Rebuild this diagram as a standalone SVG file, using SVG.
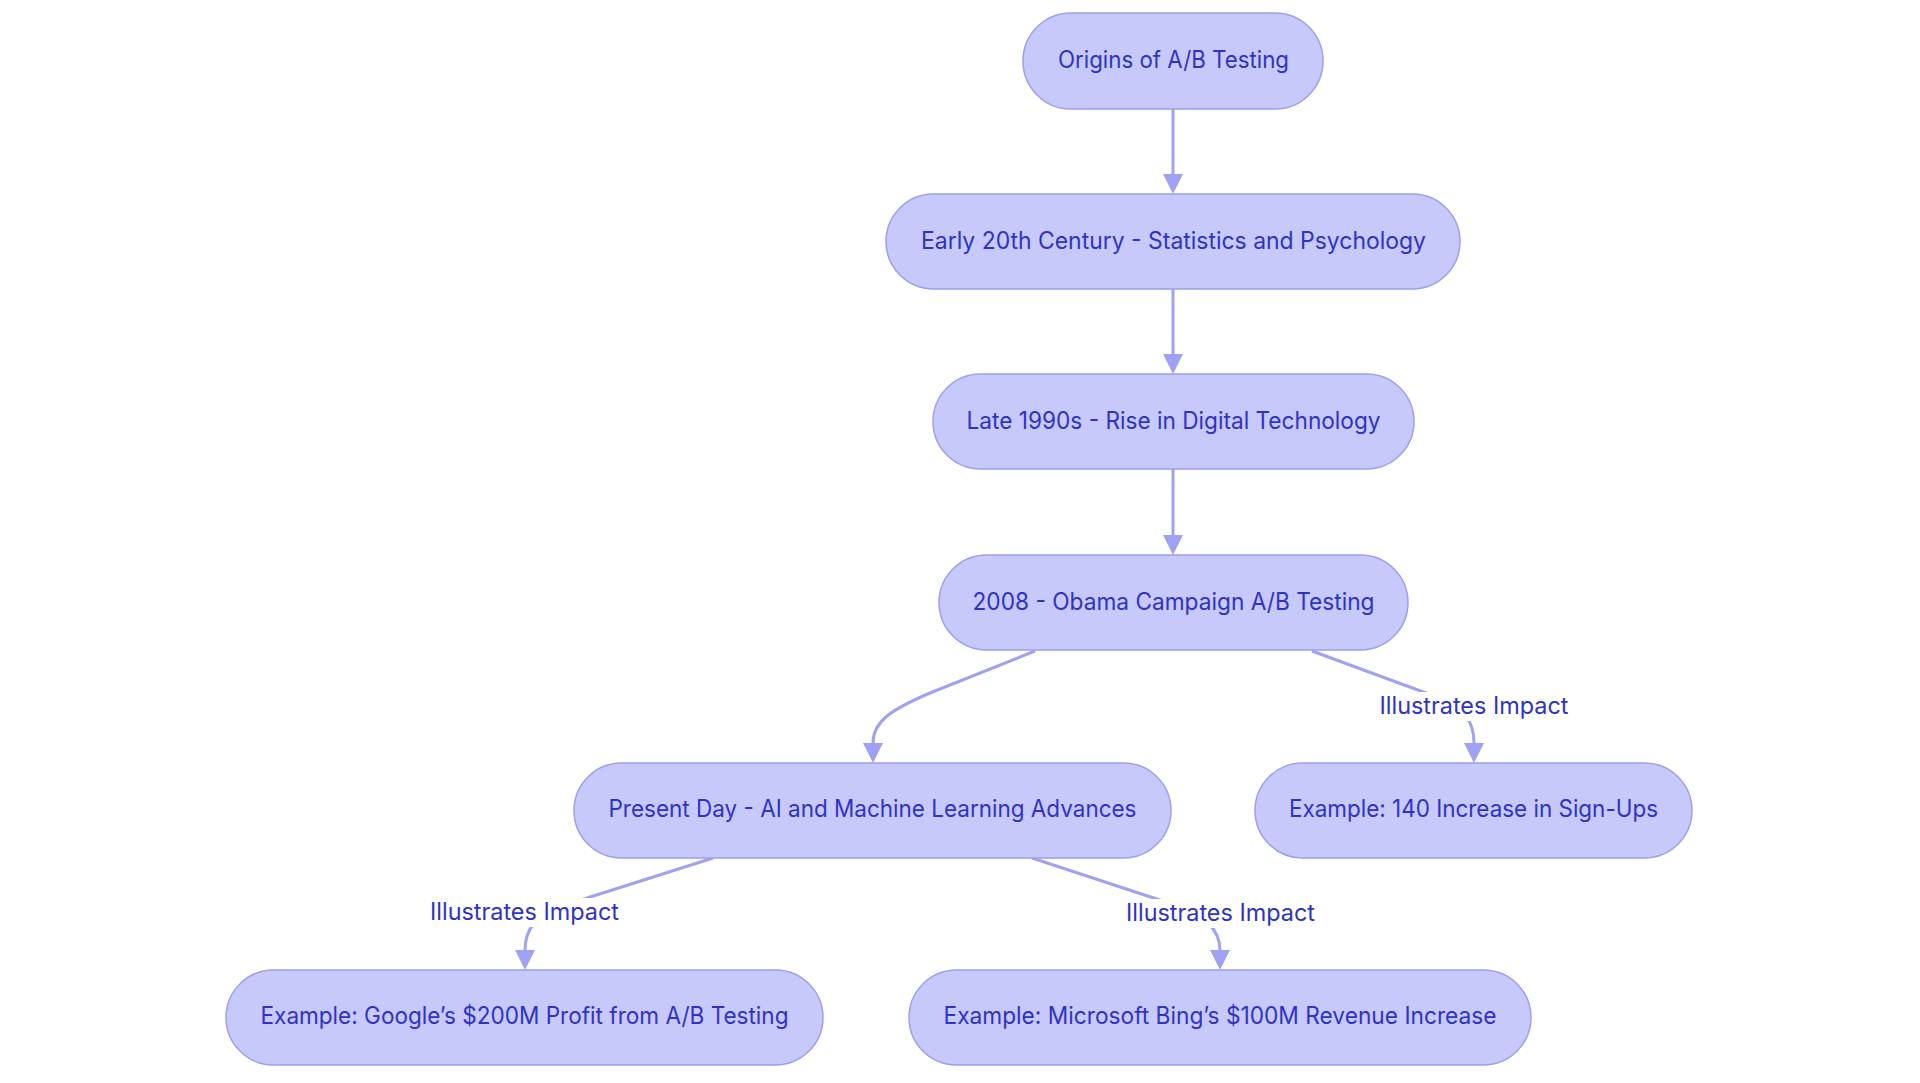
<svg xmlns="http://www.w3.org/2000/svg" width="1920" height="1083" viewBox="0 0 1920 1083">
<style>
.node rect{fill:#c8c9fb;stroke:#9b9ff0;stroke-width:1.5}
.node text,.lbl text{font-family:Inter,"Noto Sans",sans-serif;font-size:24px;fill:#2e33c6;text-anchor:middle}
.edge{fill:none;stroke:#9fa2f2;stroke-width:3}
.lbl rect{fill:#ffffff}
</style>
<defs>
<marker id="arr" markerUnits="userSpaceOnUse" markerWidth="20" markerHeight="20" refX="0" refY="10" orient="auto" viewBox="0 0 20 20">
<path d="M0,0 L20,10 L0,20 z" fill="#9fa2f2"/>
</marker>
</defs>
<rect width="1920" height="1083" fill="#ffffff"/>
<g id="connectors">
<path class="edge" d="M1173,109 L1173,174" marker-end="url(#arr)"/>
<path class="edge" d="M1173,289 L1173,354" marker-end="url(#arr)"/>
<path class="edge" d="M1173,469 L1173,535" marker-end="url(#arr)"/>
<path class="edge" d="M1035,651 L930,693 C890,710 873,722 873,743" marker-end="url(#arr)"/>
<path class="edge" d="M1312,651 L1445,700 C1463,707 1474,722 1474,743" marker-end="url(#arr)"/>
<path class="edge" d="M713,858 L565,905 C535,915 525,930 525,950" marker-end="url(#arr)"/>
<path class="edge" d="M1032,858 L1175,905 C1205,915 1220,930 1220,950" marker-end="url(#arr)"/>
<g class="lbl" id="label-4-6"><rect x="1378" y="692" width="192" height="29"/><text x="1474" y="714" textLength="189" lengthAdjust="spacingAndGlyphs">Illustrates Impact</text></g>
<g class="lbl" id="label-5-7"><rect x="428" y="898" width="193" height="29"/><text x="524.5" y="920" textLength="189" lengthAdjust="spacingAndGlyphs">Illustrates Impact</text></g>
<g class="lbl" id="label-5-8"><rect x="1124" y="899" width="193" height="29"/><text x="1220.5" y="921" textLength="189" lengthAdjust="spacingAndGlyphs">Illustrates Impact</text></g>
</g>
<g class="node" id="n1"><rect x="1023" y="13" width="300" height="96" rx="48"/><text x="1173.5" y="68" textLength="231" lengthAdjust="spacingAndGlyphs">Origins of A/B Testing</text></g>
<g class="node" id="n2"><rect x="886" y="194" width="574" height="95" rx="47.5"/><text x="1173.5" y="249" textLength="505" lengthAdjust="spacingAndGlyphs">Early 20th Century - Statistics and Psychology</text></g>
<g class="node" id="n3"><rect x="933" y="374" width="481" height="95" rx="47.5"/><text x="1173.5" y="429" textLength="414" lengthAdjust="spacingAndGlyphs">Late 1990s - Rise in Digital Technology</text></g>
<g class="node" id="n4"><rect x="939" y="555" width="469" height="95" rx="47.5"/><text x="1173.5" y="610" textLength="402" lengthAdjust="spacingAndGlyphs">2008 - Obama Campaign A/B Testing</text></g>
<g class="node" id="n5"><rect x="574" y="763" width="597" height="95" rx="47.5"/><text x="872.5" y="817" textLength="528" lengthAdjust="spacingAndGlyphs">Present Day - AI and Machine Learning Advances</text></g>
<g class="node" id="n6"><rect x="1255" y="763" width="437" height="95" rx="47.5"/><text x="1473.5" y="817" textLength="369" lengthAdjust="spacingAndGlyphs">Example: 140 Increase in Sign-Ups</text></g>
<g class="node" id="n7"><rect x="226" y="970" width="597" height="95" rx="47.5"/><text x="524.5" y="1024" textLength="528" lengthAdjust="spacingAndGlyphs">Example: Google’s $200M Profit from A/B Testing</text></g>
<g class="node" id="n8"><rect x="909" y="970" width="622" height="95" rx="47.5"/><text x="1220" y="1024" textLength="553" lengthAdjust="spacingAndGlyphs">Example: Microsoft Bing’s $100M Revenue Increase</text></g>
</svg>
